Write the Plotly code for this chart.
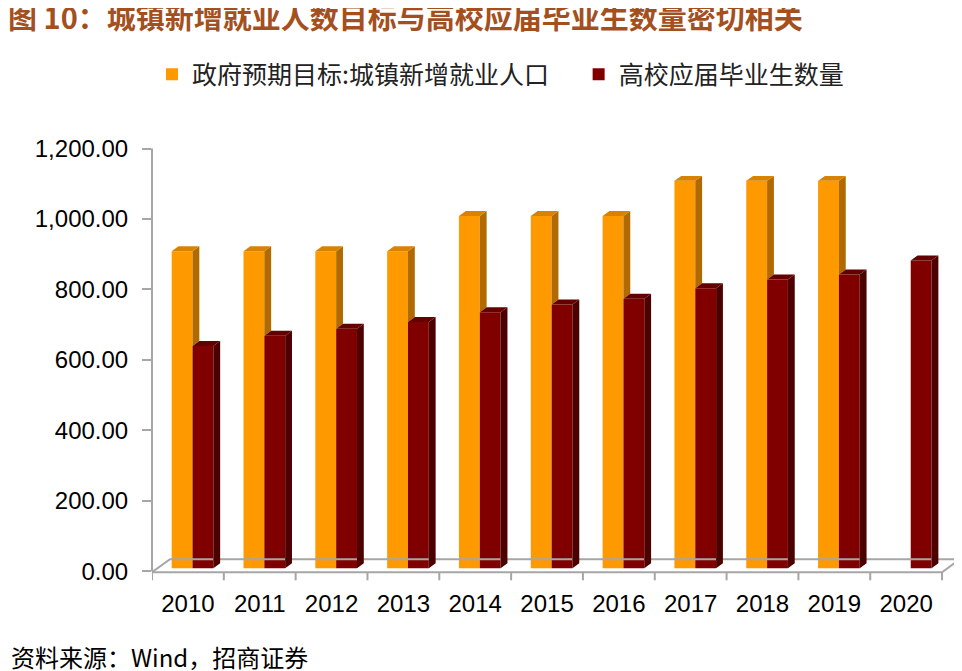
import plotly.graph_objects as go

# ---------------- data ----------------
years = ["2010", "2011", "2012", "2013", "2014", "2015", "2016", "2017", "2018", "2019", "2020"]
target_jobs = [900, 900, 900, 900, 1000, 1000, 1000, 1100, 1100, 1100, None]   # 政府预期目标:城镇新增就业人口
graduates = [631, 660, 680, 699, 727, 749, 765, 795, 820, 834, 874]          # 高校应届毕业生数量
y_ticks = [0, 200, 400, 600, 800, 1000, 1200]

name_target = "政府预期目标:城镇新增就业人口"
name_grad = "高校应届毕业生数量"

# ---------------- style ----------------
ORANGE, ORANGE_SIDE, ORANGE_TOP = "#FF9900", "#B06A00", "#D98200"
RED, RED_SIDE, RED_TOP = "#800000", "#4C0000", "#650000"
GRAY = "#A6A6A6"
TITLE_C = "#A3501E"
CJK = "Noto Sans CJK SC"
NUM = "Liberation Sans"

W = 0.29          # bar front width (category units)
SHIFT = 0.064     # group shift to the right (3D depth placement)
DX, DY = 0.095, 14  # 3D depth of bars
BASE = 8.5        # front face base (3D offset)
FL_FRONT, FL_BACK, FL_DX = -3, 34, 0.25   # floor

# figure geometry (page has an 8px body margin)
FIG_W, FIG_H = 954, 663
ML, MR, MT, MB = 144, 2.25, 123.4, 84.2
PW = FIG_W - ML - MR
PH = FIG_H - MT - MB

pos = list(range(len(years)))

fig = go.Figure()

# floor (3D base plane outline)
x0f, x1f = -0.5, len(years) - 0.5
fig.add_trace(go.Scatter(
    x=[x0f, x1f, x1f + FL_DX, x0f + FL_DX, x0f],
    y=[FL_FRONT, FL_FRONT, FL_BACK, FL_BACK, FL_FRONT],
    mode="lines", line=dict(color=GRAY, width=2),
    showlegend=False, hoverinfo="skip"))

# category boundary ticks under the floor front edge
tx, ty = [], []
for i in range(len(years) + 1):
    b = i - 0.5
    tx += [b, b, None]
    ty += [FL_FRONT, FL_FRONT - 23, None]
fig.add_trace(go.Scatter(x=tx, y=ty, mode="lines", line=dict(color=GRAY, width=2),
                         showlegend=False, hoverinfo="skip"))

# front faces as bars
fig.add_trace(go.Bar(x=pos, y=target_jobs, base=BASE, width=W, offset=SHIFT - W,
                     marker=dict(color=ORANGE, line=dict(width=0)), name=name_target,
                     legend="legend"))
fig.add_trace(go.Bar(x=pos, y=graduates, base=BASE, width=W, offset=SHIFT,
                     marker=dict(color=RED, line=dict(width=0)), name=name_grad,
                     legend="legend2"))


def poly_trace(xs, ys, color):
    return go.Scatter(x=xs, y=ys, mode="lines", fill="toself", fillcolor=color,
                      line=dict(width=0, color=color), showlegend=False, hoverinfo="skip")


# orange: visible side (above the red bar) and top
osx, osy, otx, oty = [], [], [], []
for p, v, g in zip(pos, target_jobs, graduates):
    if v is None:
        continue
    xa = p + SHIFT - W
    xb = p + SHIFT
    top = BASE + v
    low = BASE + (g if g is not None else 0)
    osx += [xb, xb + DX, xb + DX, xb, xb, None]
    osy += [low, low + DY, top + DY, top, low, None]
    otx += [xa, xa + DX, xb + DX, xb, xa, None]
    oty += [top, top + DY, top + DY, top, top, None]
fig.add_trace(poly_trace(osx, osy, ORANGE_SIDE))
fig.add_trace(poly_trace(otx, oty, ORANGE_TOP))

# red: side and top
rsx, rsy, rtx, rty = [], [], [], []
for p, g in zip(pos, graduates):
    if g is None:
        continue
    xa = p + SHIFT
    xb = p + SHIFT + W
    top = BASE + g
    rsx += [xb, xb + DX, xb + DX, xb, xb, None]
    rsy += [BASE, BASE + DY, top + DY, top, BASE, None]
    rtx += [xa, xa + DX, xb + DX, xb, xa, None]
    rty += [top, top + DY, top + DY, top, top, None]
fig.add_trace(poly_trace(rsx, rsy, RED_SIDE))
fig.add_trace(poly_trace(rtx, rty, RED_TOP))

legend_common = dict(orientation="h", yanchor="middle", y=1 + (MT - 67) / PH,
                     font=dict(family=CJK, size=25, color="#222222"),
                     bgcolor="rgba(0,0,0,0)", xanchor="left")

# ---------------- layout ----------------
fig.update_layout(
    width=FIG_W, height=FIG_H,
    margin=dict(l=ML, r=MR, t=MT, b=MB, autoexpand=False),
    paper_bgcolor="white", plot_bgcolor="white",
    barmode="overlay",
    showlegend=True,
    legend=dict(x=0.0, **legend_common),
    legend2=dict(x=(570.5 - ML) / PW, **legend_common),
    title=dict(text="<b>图 10：城镇新增就业人数目标与高校应届毕业生数量密切相关</b>",
               xref="container", yref="container", x=0, xanchor="left",
               y=1 - 1 / FIG_H, yanchor="top",
               font=dict(family=CJK, size=29, color=TITLE_C)),
    xaxis=dict(range=[-0.5, 10.75], tickvals=pos, ticktext=years, ticks="",
               showgrid=False, zeroline=False, showline=False,
               tickfont=dict(family=NUM, size=24, color="black")),
    yaxis=dict(range=[-45, 1250], tickvals=y_ticks, tickformat=",.2f",
               ticks="outside", ticklen=9, tickwidth=2, tickcolor=GRAY,
               ticklabelstandoff=9,
               showgrid=False, zeroline=False, showline=False,
               tickfont=dict(family=NUM, size=24, color="black")),
    annotations=[dict(text="资料来源：Wind，招商证券", xref="paper", yref="paper",
                      x=(1 - ML) / PW, xanchor="left",
                      y=(FIG_H - MB - 648) / PH, yanchor="middle", showarrow=False,
                      font=dict(family=CJK, size=24, color="black"))],
    shapes=[dict(type="line", xref="paper", yref="y", x0=0, x1=0, y0=0, y1=max(y_ticks),
                 line=dict(color=GRAY, width=2))],
)

fig.write_html("out.html")
